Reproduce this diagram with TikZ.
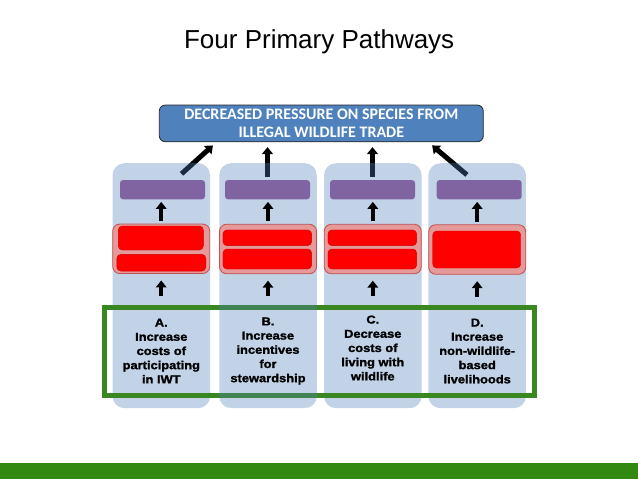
\documentclass[tikz,border=0pt]{standalone}
\usepackage{fontspec}
\setmainfont{Liberation Sans}
\newfontfamily\goalfont{Carlito}
\newfontfamily\labfont[FakeStretch=1.12,FakeBold=1.6]{Liberation Sans}
\usepackage{tikz}
\usetikzlibrary{arrows.meta,calc}

\definecolor{colblue}{RGB}{79,129,189}
\definecolor{purp}{RGB}{128,100,162}
\definecolor{redpale}{RGB}{229,153,152}
\definecolor{redline}{RGB}{192,80,77}
\definecolor{framegreen}{RGB}{56,135,32}
\definecolor{bargreen}{RGB}{50,137,17}

\pgfdeclarelayer{back}
\pgfdeclarelayer{mid}
\pgfsetlayers{back,mid,main}

\tikzset{
  column/.style={fill=colblue, fill opacity=0.35, rounded corners=12, minimum width=97.5, minimum height=245, inner sep=0},
  goalbox/.style={fill=colblue, draw=black!85, line width=0.8, rounded corners=6, minimum width=324, minimum height=36.7, inner sep=0, align=center, text=white, font=\goalfont\bfseries\fontsize{16}{17.5}\selectfont},
  outbox/.style={fill=purp, rounded corners=3, minimum width=85, minimum height=19.3, inner sep=0},
  grpbox/.style={fill=redpale, draw=redline, line width=0.8, rounded corners=7, minimum width=97, minimum height=49.5, inner sep=0},
  redbox/.style={fill=red, draw=red!80!black, line width=0.4, rounded corners=4, inner sep=0},
  pathframe/.style={draw=framegreen, line width=5, minimum width=430, minimum height=88, inner sep=0},
  pathlabel/.style={align=center, inner sep=0, font=\labfont\bfseries\fontsize{11.5}{14.2}\selectfont},
  toparrow/.style={line width=5, -{Triangle[width=11pt,length=7pt]}},
  uparrow/.style={line width=4, -{Triangle[width=10.5pt,length=7pt]}}
}

\begin{document}
\begin{tikzpicture}[x=1pt,y=1pt,yscale=-1,xscale=1]
\useasboundingbox (0,0) rectangle (638,479);

% Text Node
\node[anchor=base, inner sep=0, font=\fontsize{26}{30}\selectfont] (title) at (319.2,48.3) {Four Primary Pathways};

%Rounded Rect
\node[goalbox] (goal) at (321.3,123.4) {DECREASED PRESSURE ON SPECIES FROM\\ILLEGAL WILDLIFE TRADE};

%Rounded Rect
\begin{pgfonlayer}{mid}
\node[column] (col1) at (161.3,285.7) {};
\node[column] (col3) at (372.8,285.7) {};
\node[column] (col4) at (477.2,285.7) {};
\node[pathframe] (frame) at (319,351) {};
\node[column] (col2) at (268,285.7) {};
\end{pgfonlayer}

%Rounded Rect
\node[outbox] (out1) at (162.5,189.7) {};
\node[outbox] (out2) at (267.5,189.7) {};
\node[outbox] (out3) at (372.5,189.7) {};
\node[outbox] (out4) at (479.2,189.7) {};

%Rounded Rect
\node[grpbox] (grp1) at (161.2,248.8) {};
\node[grpbox] (grp2) at (268,249) {};
\node[grpbox] (grp3) at (372.8,249) {};
\node[grpbox] (grp4) at (477.2,249.5) {};

%Rounded Rect
\node[redbox, minimum width=85, minimum height=24] (r1a) at (160.8,238) {};
\node[redbox, minimum width=89, minimum height=16.7] (r1b) at (161.3,262.7) {};
\node[redbox, minimum width=88.7, minimum height=15.7] (r2a) at (267.3,237.8) {};
\node[redbox, minimum width=88.7, minimum height=20] (r2b) at (267.3,259) {};
\node[redbox, minimum width=88.7, minimum height=15.7] (r3a) at (372.3,237.8) {};
\node[redbox, minimum width=88.7, minimum height=20] (r3b) at (372.3,259) {};
\node[redbox, minimum width=88, minimum height=37] (r4) at (476.7,249.5) {};

% Text Node
\node[pathlabel] (lab1) at (161.3,351) {A.\\Increase\\costs of\\participating\\in IWT};
% Text Node
\node[pathlabel] (lab2) at (268,351) {B.\\Increase\\incentives\\for\\stewardship};
% Text Node
\node[pathlabel] (lab3) at (372.8,348) {C.\\Decrease\\costs of\\living with\\wildlife};
% Text Node
\node[pathlabel] (lab4) at (477.2,351) {D.\\Increase\\non-wildlife-\\based\\livelihoods};

%Straight Lines
\begin{pgfonlayer}{back}
\draw[toparrow] ($(out1.north)+(19,-6)$) -- ($(goal.south west)+(54,3.3)$);
\draw[toparrow, shorten <=3.3, shorten >=5] (out2.north) -- (out2.north |- goal.south);
\draw[toparrow, shorten <=3.3, shorten >=5] (out3.north) -- (out3.north |- goal.south);
\draw[toparrow] ($(out4.north)+(-12.3,-5)$) -- ($(goal.south east)+(-51.6,3.3)$);
\end{pgfonlayer}

%Straight Lines
\foreach \i in {1,...,4}{
  \draw[uparrow, shorten <=2.5, shorten >=2.3] (grp\i.north) -- (grp\i.north |- out\i.south);
  \draw[uparrow] ($(grp\i.south)+(0,22)$) -- ($(grp\i.south)+(0,6.5)$);
}

%Shape: Rectangle
\fill[bargreen] (0,462.7) rectangle (638,479);

\end{tikzpicture}
\end{document}
